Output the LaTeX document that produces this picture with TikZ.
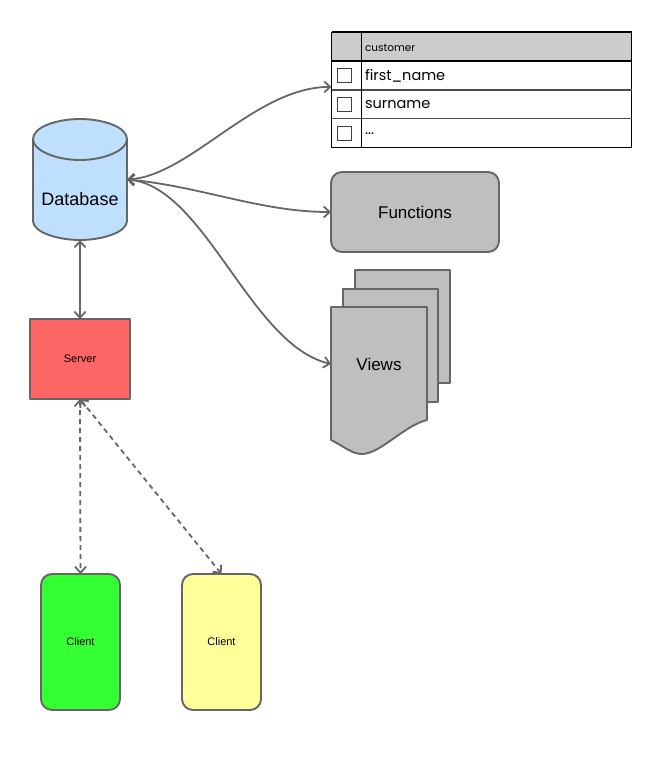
\documentclass[tikz,border=0pt]{standalone}
\usepackage{fontspec}
\setmainfont{Liberation Sans}
\newfontfamily\handfont{Poppins}
\usetikzlibrary{arrows.meta}
\definecolor{edgegray}{HTML}{666666}
\definecolor{boxgray}{HTML}{BFBFBF}
\definecolor{headgray}{HTML}{CCCCCC}
\definecolor{dbblue}{HTML}{BFDFFF}
\definecolor{srvred}{HTML}{FF6666}
\definecolor{cligreen}{HTML}{33FF33}
\definecolor{cliyellow}{HTML}{FFFF99}
\tikzset{
  base/.style={inner sep=0pt,outer sep=0pt},
  shapeline/.style={draw=edgegray,line width=1.9pt,line join=round},
  roundbox/.style={base,shapeline,rounded corners=11pt,align=center},
  bigtxt/.style={font=\fontsize{17}{20}\selectfont},
  smalltxt/.style={font=\fontsize{11}{13}\selectfont},
  link/.style={draw=edgegray,line width=1.8pt,{Straight Barb[length=6pt,width=11pt]}-{Straight Barb[length=6pt,width=11pt]}},
  dashlink/.style={link,dash pattern=on 5pt off 4pt},
  tableline/.style={draw=black,line width=1pt},
  rowtxt/.style={base,anchor=west,font=\handfont\fontsize{14.5}{16}\selectfont},
  chk/.style={draw=black!75,line width=0.9pt,fill=white},
}
\begin{document}
\begin{tikzpicture}[x=1pt,y=-1pt]
\useasboundingbox (0,0) rectangle (652,763);
% table
\node[base,minimum width=300pt,minimum height=115pt] (tbl) at (481.5,89.5) {};
\fill[headgray] (331.5,32) rectangle (631.5,61);
\draw[tableline] (tbl.north west) rectangle (tbl.south east);
\draw[tableline,line width=1.3pt] (331.5,32) -- (631.5,32);
\draw[tableline,line width=1.3pt] (331.5,61) -- (631.5,61);
\draw[tableline,draw=black!70,line width=1.2pt] (331.5,90) -- (631.5,90);
\draw[tableline,draw=black!70,line width=1.2pt] (331.5,118.5) -- (631.5,118.5);
\draw[tableline] (361.5,32) -- (361.5,147);
\draw[chk] (337,68) rectangle (351,82);
\draw[chk] (337,97) rectangle (351,111);
\draw[chk] (337,126) rectangle (351,140);
\node[rowtxt,font=\handfont\fontsize{10.5}{12}\selectfont] (thead) at (365,47.5) {customer};
\node[rowtxt] (row1) at (365,75.5) {first\_name};
\node[rowtxt] (row2) at (365,104.5) {surname};
\node[rowtxt] (row3) at (365,133.5) {...};
% database
\node[base,minimum width=94pt,minimum height=121pt] (db) at (80,179.5) {};
\path[shapeline,fill=dbblue] (33,139) .. controls (33,127) and (57,119) .. (80,119) .. controls (103,119) and (127,127) .. (127,139) -- (127,221) .. controls (127,232) and (103,240) .. (80,240) .. controls (57,240) and (33,232) .. (33,221) -- cycle;
\draw[shapeline] (33,139) .. controls (33,151) and (57,160) .. (80,160) .. controls (103,160) and (127,151) .. (127,139);
\node[base,font=\fontsize{18}{21}\selectfont] (dblabel) at (80,199.5) {Database};
% functions
\node[roundbox,fill=boxgray,minimum width=168pt,minimum height=80pt,bigtxt] (func) at (415,212) {Functions};
% views
\path[shapeline,fill=boxgray] (355,270) rectangle (450,383);
\path[shapeline,fill=boxgray] (343,289) rectangle (438,402);
\path[shapeline,fill=boxgray] (331,307) -- (427,307) -- (427,420) .. controls (405,425) and (380,454) .. (362,454) .. controls (352,454) and (345,447) .. (331,440) -- cycle;
\node[base,minimum width=96pt,minimum height=20pt,bigtxt] (views) at (379,364) {Views};
% server and clients
\node[base,shapeline,fill=srvred,minimum width=100pt,minimum height=80pt,smalltxt] (server) at (80,359) {Server};
\node[roundbox,fill=cligreen,minimum width=79pt,minimum height=136pt,smalltxt] (c1) at (80.5,642) {Client};
\node[roundbox,fill=cliyellow,minimum width=79pt,minimum height=136pt,smalltxt] (c2) at (221.5,642) {Client};
% connectors
\draw[link] (db.east) .. controls (190,176) and (255,87) .. (tbl.179);
\draw[link] (db.east) .. controls (200,186) and (260,212) .. (func.west);
\draw[link] (db.east) .. controls (205,186) and (250,345) .. (views.west);
\draw[link] (db.south) -- (server.north);
\draw[dashlink] (server.south) -- (c1.north);
\draw[dashlink] (server.south) -- (c2.north);
\end{tikzpicture}
\end{document}
